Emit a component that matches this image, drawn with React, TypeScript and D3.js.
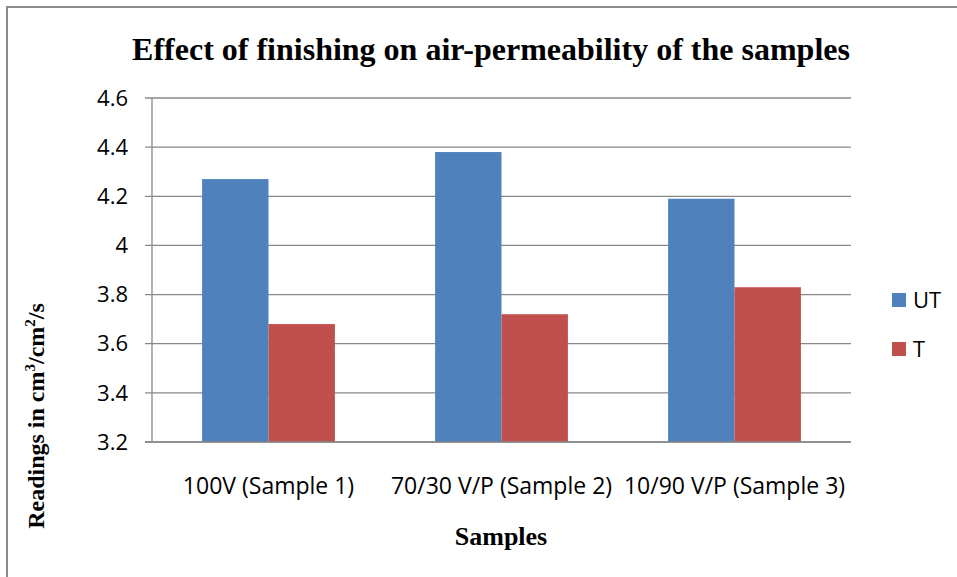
import React, { useEffect, useRef } from 'react';
import * as d3 from 'd3';

const categories = ['100V (Sample 1)', '70/30 V/P (Sample 2)', '10/90 V/P (Sample 3)'];
const seriesNames = ['UT', 'T'];
const utValues = [4.27, 4.38, 4.19];
const tValues = [3.68, 3.72, 3.83];
const yTicks = [3.2, 3.4, 3.6, 3.8, 4.0, 4.2, 4.4, 4.6];
const colors = ['#4F81BD', '#C0504D'];

const App = () => {
  const ref = useRef<SVGSVGElement | null>(null);

  useEffect(() => {
    const svg = d3.select(ref.current);
    svg.selectAll('*').remove();

    const width = 957;
    const height = 577;
    const left = 152, right = 851, top = 98, bottom = 442;
    const labelFont = '"Open Sans", sans-serif';
    const serif = '"Liberation Serif", "DejaVu Serif", serif';

    // outer frame
    svg.append('rect')
      .attr('x', 7).attr('y', 7)
      .attr('width', width).attr('height', height)
      .attr('fill', 'white')
      .attr('stroke', '#8c8c8c')
      .attr('stroke-width', 2);

    svg.append('text')
      .attr('x', 491).attr('y', 60)
      .attr('text-anchor', 'middle')
      .style('font-family', serif)
      .style('font-weight', 'bold')
      .style('font-size', '32px')
      .text('Effect of finishing on air-permeability of the samples');

    const y = d3.scaleLinear().domain([3.2, 4.6]).range([bottom, top]);
    const x0 = d3.scaleBand().domain(categories).range([left, right]).paddingInner(0.43).paddingOuter(0.215);
    const x1 = d3.scaleBand().domain(seriesNames).range([0, x0.bandwidth()]);

    // gridlines + ticks
    const grid = svg.append('g');
    yTicks.forEach(t => {
      grid.append('line')
        .attr('x1', left - 7).attr('x2', right)
        .attr('y1', y(t)).attr('y2', y(t))
        .attr('stroke', '#888').attr('stroke-width', 1.3);
      grid.append('text')
        .attr('x', 128).attr('y', y(t))
        .attr('dy', '0.35em')
        .attr('text-anchor', 'end')
        .style('font-family', labelFont)
        .style('font-size', '22px')
        .text(d3.format('')(t));
    });
    grid.append('line')
      .attr('x1', left).attr('x2', left)
      .attr('y1', top).attr('y2', bottom)
      .attr('stroke', '#888').attr('stroke-width', 1.3);

    const groups = svg.append('g')
      .selectAll('g')
      .data(categories)
      .join('g')
      .attr('transform', d => `translate(${x0(d)},0)`);

    groups.selectAll('rect')
      .data((d, i) => [utValues[i], tValues[i]].map((v, j) => ({ key: seriesNames[j], v, j })))
      .join('rect')
      .attr('x', d => x1(d.key) as number)
      .attr('width', x1.bandwidth())
      .attr('y', d => y(d.v))
      .attr('height', d => bottom - y(d.v))
      .attr('fill', d => colors[d.j]);

    // x axis line on top
    svg.append('line')
      .attr('x1', left - 7).attr('x2', right)
      .attr('y1', bottom).attr('y2', bottom)
      .attr('stroke', '#888').attr('stroke-width', 1.5);

    svg.append('g')
      .selectAll('text')
      .data(categories)
      .join('text')
      .attr('x', d => (x0(d) as number) + x0.bandwidth() / 2)
      .attr('y', 494)
      .attr('text-anchor', 'middle')
      .style('font-family', labelFont)
      .style('font-size', '23px')
      .text(d => d);

    svg.append('text')
      .attr('x', 501).attr('y', 545)
      .attr('text-anchor', 'middle')
      .style('font-family', serif)
      .style('font-weight', 'bold')
      .style('font-size', '26px')
      .text('Samples');

    // y axis title
    const yt = svg.append('text')
      .attr('transform', 'translate(44,416) rotate(-90)')
      .attr('text-anchor', 'middle')
      .style('font-family', serif)
      .style('font-weight', 'bold')
      .style('font-size', '24px');
    yt.append('tspan').text('Readings in cm');
    yt.append('tspan').attr('dy', -9).style('font-size', '15px').text('3');
    yt.append('tspan').attr('dy', 9).text('/cm');
    yt.append('tspan').attr('dy', -9).style('font-size', '15px').text('2');
    yt.append('tspan').attr('dy', 9).text('/s');

    // legend
    const legend = svg.append('g')
      .selectAll('g')
      .data(seriesNames)
      .join('g')
      .attr('transform', (d, i) => `translate(892,${293 + i * 49})`);
    legend.append('rect')
      .attr('width', 14).attr('height', 14)
      .attr('fill', (d, i) => colors[i]);
    legend.append('text')
      .attr('x', 21).attr('y', 7)
      .attr('dy', '0.35em')
      .style('font-family', labelFont)
      .style('font-size', '22px')
      .text(d => d);
  }, []);

  return (
    <svg
      ref={ref}
      width={957}
      height={577}
      style={{ position: 'absolute', left: 0, top: 0, background: 'white' }}
    />
  );
};

export default App;
